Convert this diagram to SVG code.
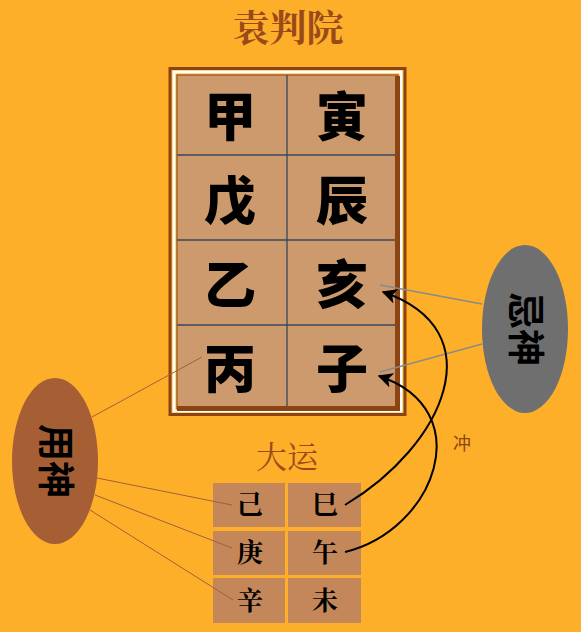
<svg xmlns="http://www.w3.org/2000/svg" width="581" height="632" viewBox="0 0 581 632">
<style>
.big{font-family:"Noto Sans CJK SC","Noto Sans CJK JP",sans-serif;font-size:52px;font-weight:900;fill:#000;text-anchor:middle}
.sm{font-family:"Noto Serif CJK SC","Noto Sans CJK SC",serif;font-size:26px;font-weight:bold;fill:#000;text-anchor:middle}
.ttl{font-family:"Noto Serif CJK SC","Noto Sans CJK SC",serif;fill:#9A4A1A;text-anchor:middle}
.ell{font-family:"Noto Sans CJK SC",sans-serif;font-size:37px;font-weight:bold;fill:#000;text-anchor:middle}
.cell{fill:#C4875A}
.grid{stroke:#34495E;stroke-width:1.3}
.bl{stroke:#A0603A;stroke-width:1;fill:none}
.gl{stroke:#8A8A8A;stroke-width:1.5;fill:none}
.arr{stroke:#000;stroke-width:2;fill:none;marker-end:url(#ah)}
</style>
<defs>
<marker id="ah" viewBox="0 0 10 10" refX="9" refY="5" markerWidth="15" markerHeight="15" markerUnits="userSpaceOnUse" orient="auto">
<path d="M0,0 L10,5 L0,10 L2.5,5 Z" fill="#000"/>
</marker>
</defs>
<rect width="581" height="632" fill="#FEAF2A"/>
<g id="title"><text class="ttl" x="288" y="42" style="font-size:37px;font-weight:bold">袁判院</text></g>
<g id="chart">
<rect x="170" y="68.5" width="235" height="346" fill="none" stroke="#8B4513" stroke-width="3"/>
<rect x="174" y="72" width="227" height="339" fill="none" stroke="#FFFFFF" stroke-width="3"/>
<rect x="177" y="75" width="221" height="334" fill="#CD9A6E" stroke="#8B4513" stroke-width="1"/>
<rect x="395" y="76" width="5" height="335" fill="#8B4513"/>
<rect x="177" y="406" width="223" height="5" fill="#8B4513"/>
<line class="grid" x1="287" y1="75" x2="287" y2="406"/>
<line class="grid" x1="177" y1="155" x2="395" y2="155"/>
<line class="grid" x1="177" y1="240" x2="395" y2="240"/>
<line class="grid" x1="177" y1="325" x2="395" y2="325"/>
</g>
<g id="c-jia"><text class="big" x="230" y="136">甲</text></g>
<g id="c-yin"><text class="big" x="342" y="136">寅</text></g>
<g id="c-wu"><text class="big" x="230" y="220">戊</text></g>
<g id="c-chen"><text class="big" x="342" y="220">辰</text></g>
<g id="c-yi"><text class="big" x="230" y="304">乙</text></g>
<g id="c-hai"><text class="big" x="342" y="304">亥</text></g>
<g id="c-bing"><text class="big" x="230" y="388">丙</text></g>
<g id="c-zi"><text class="big" x="342" y="388">子</text></g>
<g id="dayun-title"><text class="ttl" x="287" y="468" style="font-size:31px;font-weight:normal">大运</text></g>
<g id="dayun">
<rect class="cell" x="213" y="483" width="72" height="44"/>
<rect class="cell" x="288" y="483" width="73" height="44"/>
<rect class="cell" x="213" y="531" width="72" height="44"/>
<rect class="cell" x="288" y="531" width="73" height="44"/>
<rect class="cell" x="213" y="578" width="72" height="45"/>
<rect class="cell" x="288" y="578" width="73" height="45"/>
<text class="sm" x="250" y="514">己</text>
<text class="sm" x="325" y="514">巳</text>
<text class="sm" x="250" y="562">庚</text>
<text class="sm" x="325" y="562">午</text>
<text class="sm" x="250" y="610">辛</text>
<text class="sm" x="325" y="610">未</text>
</g>
<g id="connectors">
<line class="bl" x1="92" y1="417" x2="202" y2="357"/>
<line class="bl" x1="97" y1="478" x2="232" y2="505"/>
<line class="bl" x1="95" y1="495" x2="232" y2="548"/>
<line class="bl" x1="90" y1="510" x2="233" y2="600"/>
<line class="gl" x1="482" y1="304" x2="380" y2="285"/>
<line class="gl" x1="482" y1="344" x2="380" y2="372"/>
<path class="arr" d="M345,505 C445,445 495,330 383,292"/>
<path class="arr" d="M345,552 C435,530 480,410 379,376"/>
</g>
<g id="yongshen">
<ellipse cx="55" cy="461" rx="43" ry="83" fill="#A65F35"/>
<text class="ell" transform="translate(55,461) rotate(90)" x="0" y="13">用神</text>
</g>
<g id="jishen">
<ellipse cx="525" cy="329" rx="43" ry="84" fill="#6F6F6F"/>
<text class="ell" transform="translate(525,329) rotate(90)" x="0" y="13">忌神</text>
</g>
<g id="chong"><text x="462" y="450" font-family="Noto Sans CJK SC,sans-serif" font-size="18" fill="#8B4513" text-anchor="middle">冲</text></g>
</svg>
